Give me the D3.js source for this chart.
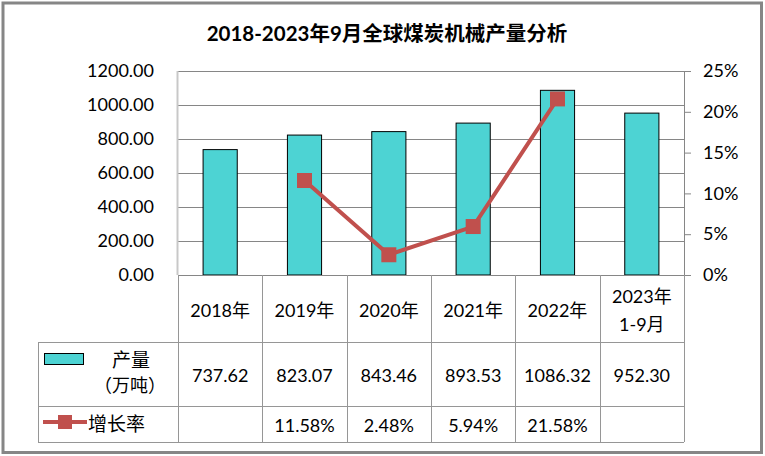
<!DOCTYPE html>
<html>
<head>
<meta charset="utf-8">
<script src="https://cdn.jsdelivr.net/npm/d3@7"></script>
<style>
html,body{margin:0;padding:0;background:#fff;}
svg{display:block;}
text{font-family:"Lato","Noto Sans CJK SC",sans-serif;fill:#000;}
</style>
</head>
<body>
<svg id="chart" width="765" height="456"></svg>
<script>
const title = "2018-2023年9月全球煤炭机械产量分析";
const categories = ["2018年", "2019年", "2020年", "2021年", "2022年", "2023年\n1-9月"];
const output = [737.62, 823.07, 843.46, 893.53, 1086.32, 952.30];
const growth = [null, 0.1158, 0.0248, 0.0594, 0.2158, null];
const leftTicks = [0, 200, 400, 600, 800, 1000, 1200];
const rightTicks = [0, 0.05, 0.10, 0.15, 0.20, 0.25];
const seriesNames = ["产量", "（万吨）", "增长率"];

const svg = d3.select("#chart");
const plot = {left: 178, right: 684, top: 71, bottom: 275};
const rows = {head: [275, 342], out: [342, 406], gr: [406, 442], legendLeft: 38};
const barColor = "#4DD3D3", lineColor = "#C0504D";

// outer border
svg.append("rect").attr("x", 3).attr("y", 3).attr("width", 758.5).attr("height", 449.5)
  .attr("fill", "#fff").attr("stroke", "#868686").attr("stroke-width", 3);

// title
svg.append("text").attr("x", 387).attr("y", 33).attr("text-anchor", "middle")
  .attr("dominant-baseline", "central").attr("font-size", 20.5).attr("font-weight", "bold")
  .text(title);

const x = d3.scaleBand().domain(categories).range([plot.left, plot.right]).padding(0);
const yL = d3.scaleLinear().domain([0, 1200]).range([plot.bottom, plot.top]);
const yR = d3.scaleLinear().domain([0, 0.25]).range([plot.bottom, plot.top]);

// gridlines
svg.append("g").selectAll("line").data(leftTicks).join("line")
  .attr("x1", plot.left).attr("x2", plot.right)
  .attr("y1", d => Math.round(yL(d)) + 0.5).attr("y2", d => Math.round(yL(d)) + 0.5)
  .attr("stroke", "#868686").attr("stroke-width", 1);

// left axis line (light)
svg.append("line").attr("x1", plot.left - 0.5).attr("x2", plot.left - 0.5)
  .attr("y1", plot.top).attr("y2", plot.bottom).attr("stroke", "#c8c8c8").attr("stroke-width", 2);

// left axis labels
const axL = d3.axisLeft(yL).tickValues(leftTicks).tickFormat(d3.format(".2f")).tickSize(0).tickPadding(24);
const gL = svg.append("g").attr("transform", `translate(${plot.left},0)`).call(axL);
gL.select(".domain").remove();
gL.selectAll("text").attr("font-size", 18).attr("fill", "#000")
  .style("font-family", '"Lato","Noto Sans CJK SC",sans-serif');

// right axis
const axR = d3.axisRight(yR).tickValues(rightTicks).tickFormat(d3.format(".0%")).tickSize(7).tickPadding(12);
const gR = svg.append("g").attr("transform", `translate(${plot.right},0)`).call(axR);
gR.select(".domain").attr("stroke", "#868686");
gR.selectAll(".tick line").attr("stroke", "#868686");
gR.selectAll("text").attr("font-size", 18).attr("fill", "#000")
  .style("font-family", '"Lato","Noto Sans CJK SC",sans-serif');

// bars
const bw = x.bandwidth() * 0.405;
svg.append("g").selectAll("rect").data(output).join("rect")
  .attr("x", (d, i) => x(categories[i]) + (x.bandwidth() - bw) / 2)
  .attr("width", bw)
  .attr("y", d => yL(d)).attr("height", d => yL(0) - yL(d))
  .attr("fill", barColor).attr("stroke", "#000").attr("stroke-width", 1);

// line
const pts = growth.map((g, i) => ({g, c: categories[i]})).filter(d => d.g !== null);
const line = d3.line().x(d => x(d.c) + x.bandwidth() / 2).y(d => yR(d.g));
svg.append("path").datum(pts).attr("d", line).attr("fill", "none")
  .attr("stroke", lineColor).attr("stroke-width", 4);
const ms = 15;
svg.append("g").selectAll("rect").data(pts).join("rect")
  .attr("x", d => x(d.c) + x.bandwidth() / 2 - ms / 2)
  .attr("y", d => yR(d.g) - ms / 2)
  .attr("width", ms).attr("height", ms).attr("fill", lineColor);

// data table
const tg = svg.append("g").attr("stroke", "#969696").attr("stroke-width", 1);
tg.append("line").attr("x1", plot.left).attr("x2", plot.right).attr("y1", plot.bottom + 0.5).attr("y2", plot.bottom + 0.5).attr("stroke", "#868686");
[rows.head[1], rows.out[1], rows.gr[1]].forEach(yy => {
  tg.append("line").attr("x1", rows.legendLeft).attr("x2", plot.right)
    .attr("y1", yy + 0.5).attr("y2", yy + 0.5);
});
const colEdges = categories.map(c => x(c)).concat([plot.right]);
colEdges.forEach(xx => {
  tg.append("line").attr("x1", Math.round(xx) + 0.5).attr("x2", Math.round(xx) + 0.5)
    .attr("y1", plot.bottom).attr("y2", rows.gr[1]);
});
tg.append("line").attr("x1", rows.legendLeft + 0.5).attr("x2", rows.legendLeft + 0.5)
  .attr("y1", rows.head[1]).attr("y2", rows.gr[1]);

// header text
const ht = svg.append("g").attr("font-size", 18).attr("text-anchor", "middle");
categories.forEach(c => {
  const parts = c.split("\n");
  const cx = x(c) + x.bandwidth() / 2;
  const cy = (rows.head[0] + rows.head[1]) / 2 + 1;
  parts.forEach((p, k) => {
    ht.append("text").attr("x", cx)
      .attr("y", cy + (k - (parts.length - 1) / 2) * 28)
      .attr("dominant-baseline", "central").text(p);
  });
});

// values rows
const vt = svg.append("g").attr("font-size", 18).attr("text-anchor", "middle");
output.forEach((v, i) => {
  vt.append("text").attr("x", x(categories[i]) + x.bandwidth() / 2)
    .attr("y", (rows.out[0] + rows.out[1]) / 2 + 1).attr("dominant-baseline", "central")
    .text(d3.format(".2f")(v));
});
growth.forEach((g, i) => {
  if (g === null) return;
  vt.append("text").attr("x", x(categories[i]) + x.bandwidth() / 2)
    .attr("y", (rows.gr[0] + rows.gr[1]) / 2 + 1).attr("dominant-baseline", "central")
    .text(d3.format(".2%")(g));
});

// legend cells
svg.append("rect").attr("x", 44.5).attr("y", 353.5).attr("width", 39).attr("height", 11)
  .attr("fill", barColor).attr("stroke", "#000").attr("stroke-width", 1);
svg.append("text").attr("x", 131).attr("y", 359).attr("text-anchor", "middle")
  .attr("dominant-baseline", "central").attr("font-size", 19).text(seriesNames[0]);
svg.append("text").attr("x", 130).attr("y", 385).attr("text-anchor", "middle")
  .attr("dominant-baseline", "central").attr("font-size", 18).text(seriesNames[1]);
svg.append("line").attr("x1", 43).attr("x2", 87).attr("y1", 422).attr("y2", 422)
  .attr("stroke", lineColor).attr("stroke-width", 4);
svg.append("rect").attr("x", 58).attr("y", 415).attr("width", 14).attr("height", 14).attr("fill", lineColor);
svg.append("text").attr("x", 88).attr("y", 423).attr("dominant-baseline", "central")
  .attr("font-size", 19).text(seriesNames[2]);
</script>
</body>
</html>
